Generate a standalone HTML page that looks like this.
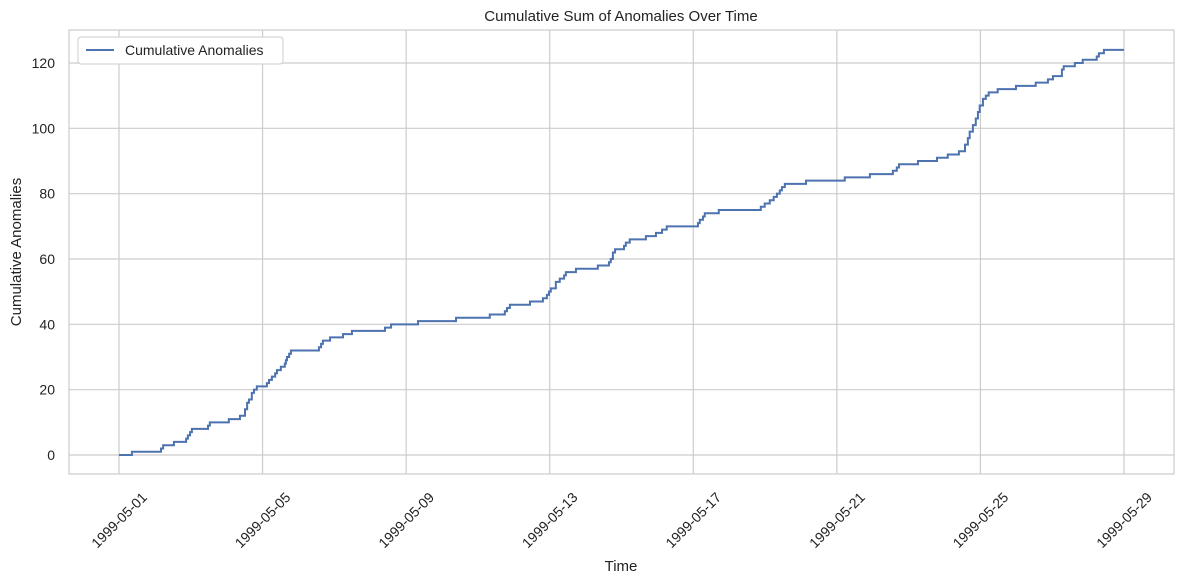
<!DOCTYPE html>
<html><head><meta charset="utf-8"><style>
body{margin:0;background:#fff}
svg{display:block;font-family:"Liberation Sans","DejaVu Sans",sans-serif}
</style></head><body>
<svg id="chart" width="1184" height="584" viewBox="0 0 1184 584">
<rect x="0" y="0" width="1184" height="584" fill="#fff"/>
<g id="grid"></g>
<rect x="69" y="30" width="1105" height="444" fill="none" stroke="#cccccc" stroke-width="1.2"/>
<g id="yticks"></g>
<g id="xticks"></g>
<path id="line" fill="none" stroke="#4c72b0" stroke-width="2"/>
<text x="621" y="21" text-anchor="middle" font-size="15" fill="#222">Cumulative Sum of Anomalies Over Time</text>
<text x="621" y="571" text-anchor="middle" font-size="15" fill="#222">Time</text>
<text transform="translate(21,252) rotate(-90)" text-anchor="middle" font-size="15" fill="#222">Cumulative Anomalies</text>
<g>
<rect x="78" y="37" width="205" height="27" rx="3" fill="#fff" stroke="#cccccc"/>
<line x1="86" y1="50" x2="114" y2="50" stroke="#4c72b0" stroke-width="2"/>
<text x="125" y="55" font-size="14" fill="#222">Cumulative Anomalies</text>
</g>
</svg>
<script>
const days=[0,0.36,1.17,1.23,1.53,1.87,1.92,1.98,2.03,2.48,2.53,3.06,3.37,3.51,3.57,3.62,3.70,3.76,3.84,4.12,4.18,4.26,4.35,4.40,4.51,4.62,4.65,4.68,4.74,4.79,5.57,5.63,5.68,5.88,6.24,6.49,7.41,7.58,8.33,9.39,10.33,10.75,10.81,10.89,11.45,11.81,11.92,11.98,12.03,12.17,12.28,12.40,12.45,12.73,13.34,13.65,13.70,13.76,13.82,14.07,14.12,14.23,14.68,14.96,15.13,15.26,16.13,16.18,16.27,16.32,16.71,17.88,17.99,18.13,18.24,18.33,18.41,18.47,18.55,19.14,20.22,20.92,21.56,21.67,21.73,22.26,22.79,23.09,23.40,23.57,23.65,23.70,23.79,23.87,23.93,23.98,24.07,24.15,24.23,24.48,24.99,25.54,25.88,26.02,26.27,26.32,26.63,26.85,27.24,27.30,27.44,28.0];
const values=[0,1,2,3,4,5,6,7,8,9,10,11,12,14,16,17,19,20,21,22,23,24,25,26,27,28,29,30,31,32,33,34,35,36,37,38,39,40,41,42,43,44,45,46,47,48,49,50,51,53,54,55,56,57,58,59,60,62,63,64,65,66,67,68,69,70,71,72,73,74,75,76,77,78,79,80,81,82,83,84,85,86,87,88,89,90,91,92,93,95,97,99,101,103,105,107,109,110,111,112,113,114,115,116,118,119,120,121,122,123,124,124];
const yTicks=[0,20,40,60,80,100,120];
const xTickDays=[0,4,8,12,16,20,24,28];
const xTickLabels=["1999-05-01","1999-05-05","1999-05-09","1999-05-13","1999-05-17","1999-05-21","1999-05-25","1999-05-29"];
const NS="http://www.w3.org/2000/svg";
function xs(d){return 119+d*(1124-119)/28;}
function ys(v){return 455-v*(455-63)/120;}
const grid=document.getElementById('grid'),yt=document.getElementById('yticks'),xt=document.getElementById('xticks');
yTicks.forEach(v=>{
  const l=document.createElementNS(NS,'line');
  
  
  l.setAttribute('x1',69);l.setAttribute('x2',1174);l.setAttribute('y1',ys(v));l.setAttribute('y2',ys(v));
  l.setAttribute('stroke','#cccccc');l.setAttribute('stroke-width','1.2');grid.appendChild(l);
  const t=document.createElementNS(NS,'text');
  
  
  t.setAttribute('x',55);t.setAttribute('y',ys(v)+5);t.setAttribute('text-anchor','end');
  t.setAttribute('font-size','14');t.setAttribute('fill','#222');t.textContent=v;yt.appendChild(t);
});
xTickDays.forEach((d,i)=>{
  const l=document.createElementNS(NS,'line');
  
  
  l.setAttribute('x1',xs(d));l.setAttribute('x2',xs(d));l.setAttribute('y1',30);l.setAttribute('y2',474);
  l.setAttribute('stroke','#cccccc');l.setAttribute('stroke-width','1.2');grid.appendChild(l);
  const t=document.createElementNS(NS,'text');
  
  
  t.setAttribute('transform','translate('+xs(d)+',520) rotate(-45)');
  t.setAttribute('text-anchor','middle');t.setAttribute('dy','5');
  t.setAttribute('font-size','14');t.setAttribute('fill','#222');t.textContent=xTickLabels[i];xt.appendChild(t);
});
let p='M'+xs(days[0])+','+ys(values[0]);
for(let i=1;i<days.length;i++){p+=' L'+xs(days[i])+','+ys(values[i-1])+' L'+xs(days[i])+','+ys(values[i]);}
document.getElementById('line').setAttribute('d',p);
</script>
</body></html>
